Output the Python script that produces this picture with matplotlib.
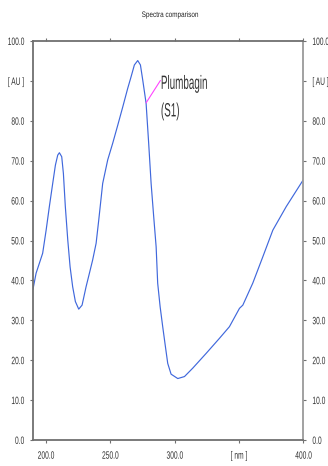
import matplotlib
matplotlib.use("Agg")
import matplotlib.pyplot as plt
from matplotlib.patheffects import AbstractPathEffect
from matplotlib.transforms import Affine2D

# Data
wavelength = [190.0, 192.4, 197.5, 200.2, 202.7, 205.3, 207.4, 209.2, 210.5, 212.3,
              213.6, 215.1, 217.0, 218.8, 220.8, 222.9, 225.5, 228.1, 231.2, 233.8,
              236.3, 239.0, 241.0, 244.1, 248.0, 251.9, 255.8, 259.7, 263.5, 266.2,
              268.7, 271.3, 273.4, 275.2, 277.8, 279.8, 281.7, 283.7, 285.6, 286.8,
              288.7, 290.7, 292.8, 294.6, 297.2, 302.4, 307.6, 314.0, 324.4, 334.8,
              342.5, 350.3, 352.9, 360.6, 368.4, 376.2, 386.6, 400.0]
absorbance = [37.8, 41.8, 46.8, 52.6, 58.5, 64.3, 68.9, 71.4, 72.0, 71.0,
              66.8, 58.5, 50.1, 43.4, 38.4, 34.7, 32.8, 33.8, 38.4, 41.8,
              45.1, 49.3, 55.0, 64.3, 70.2, 74.4, 78.9, 83.5, 88.1, 91.1,
              94.0, 95.1, 94.0, 90.2, 84.4, 74.4, 64.3, 56.0, 48.4, 39.3,
              33.4, 28.4, 23.4, 19.2, 16.5, 15.4, 15.9, 18.0, 21.7, 25.5,
              28.4, 33.0, 33.8, 39.3, 45.9, 52.6, 58.5, 65.3]
x_ticks = [200, 250, 300, 350, 400]
x_labels = ["200.0", "250.0", "300.0", "[ nm ]", "400.0"]
y_ticks = [0, 10, 20, 30, 40, 50, 60, 70, 80, 90, 100]
y_labels = ["0.0", "10.0", "20.0", "30.0", "40.0", "50.0", "60.0", "70.0", "80.0", "[ AU ]", "100.0"]
title = "Spectra comparison"
peak_label_lines = ["Plumbagin", "(S1)"]
peak_point = (277.8, 84.5)
label_anchor = (288.9, 90.1)
label_pos = [(289.3, 88.0), (289.3, 81.1)]


class Stretch(AbstractPathEffect):
    """Stretch text glyphs vertically (narrow, tall lettering like the reference)."""
    def __init__(self, sy, about=0.0):
        super().__init__()
        self.sy = sy
        self.about = about

    def draw_path(self, renderer, gc, tpath, affine, rgbFace=None):
        t = Affine2D().translate(0, -self.about).scale(1, self.sy).translate(0, self.about)
        renderer.draw_path(gc, tpath, t + affine, rgbFace)


plt.rcParams['font.family'] = ['Liberation Sans', 'DejaVu Sans']
text_color = "#333333"

fig = plt.figure(figsize=(3.28, 4.66), dpi=100)
ax = fig.add_axes([0.1006, 0.0558, 0.8247, 0.8562])

ax.plot(wavelength, absorbance, color="#4068dc", lw=0.85)
ax.set_xlim(190, 400)
ax.set_ylim(0, 100)

ax.set_xticks(x_ticks)
ax.set_xticklabels(x_labels)
ax.set_yticks(y_ticks)
ax.set_yticklabels(y_labels)
ax.tick_params(axis='both', direction='out', length=2.2, width=0.8, color="#707070",
               labelsize=4.8, labelcolor=text_color,
               top=True, right=True, labelright=True, labeltop=False)
ax.tick_params(axis='y', pad=4.2)
ax.tick_params(axis='x', pad=5.6)

for lbl in ax.get_yticklabels():
    lbl.set_path_effects([Stretch(1.6, about=36)])
for lbl in ax.get_xticklabels():
    lbl.set_path_effects([Stretch(1.6, about=72)])

for s in ax.spines.values():
    s.set_color("#6f6f6f")
    s.set_linewidth(1.3)
ax.spines['right'].set_color("#9a9a9a")

# Annotation leader line and label
ax.annotate("", xy=peak_point, xytext=label_anchor,
            arrowprops=dict(arrowstyle='-', color="#ff44ff", lw=0.8, shrinkA=0, shrinkB=0))
for line, (lx, ly) in zip(peak_label_lines, label_pos):
    ax.text(lx, ly, line, fontsize=7.1, color=text_color, ha='left', va='baseline',
            path_effects=[Stretch(1.95, about=0)])

fig.text(0.518, 1 - 17.0 / 466, title, ha='center', va='baseline', fontsize=4.6,
         color="#222222", path_effects=[Stretch(1.25, about=0)])
fig.savefig("out.png", dpi=100)
